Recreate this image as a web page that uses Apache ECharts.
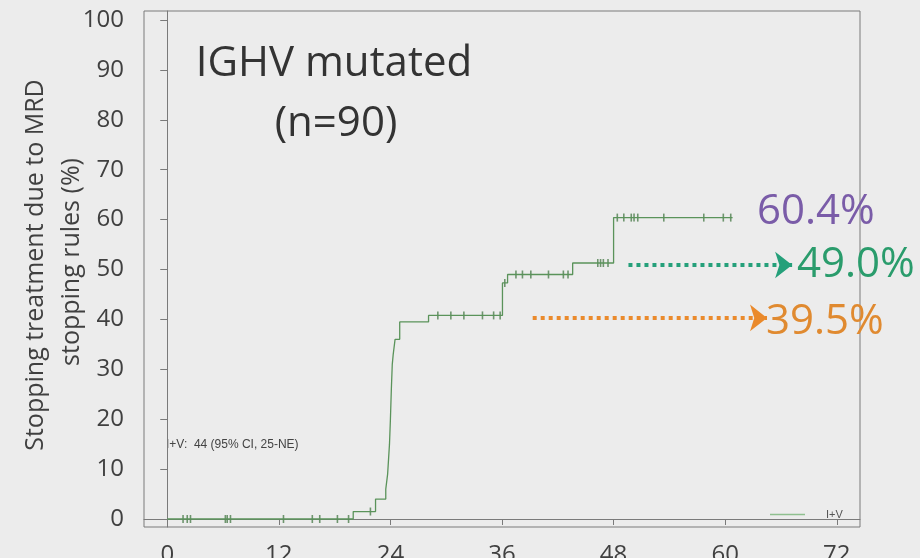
<!DOCTYPE html>
<html>
<head>
<meta charset="utf-8">
<script src="https://cdn.jsdelivr.net/npm/echarts@6/dist/echarts.min.js"></script>
<style>
html,body{margin:0;padding:0;background:#ececec;}
#chart{width:920px;height:558px;}
</style>
</head>
<body>
<div id="chart"></div>
<script>
// Kaplan-Meier step curve (cumulative % stopping treatment), months
const kmTime  = [0, 20.0, 22.4, 23.5, 23.7, 23.8, 23.9, 24.0, 24.1, 24.2, 24.3, 24.5, 25.0, 28.1, 36.05, 36.6, 43.6, 48.0, 60.8];
const kmValue = [0, 1.5, 4.0, 6.0, 9.0, 12.0, 15.0, 20.0, 26.0, 31.0, 33.0, 36.0, 39.5, 40.8, 47.3, 49.0, 51.3, 60.4, 60.4];
// censor marks [month, %]
const censored = [
  [1.7,0],[2.15,0],[2.5,0],[6.25,0],[6.45,0],[6.8,0],[12.5,0],[15.6,0],[16.4,0],[18.3,0],[19.5,0],
  [21.85,1.5],
  [29.1,40.8],[30.5,40.8],[31.9,40.8],[33.9,40.8],[35.1,40.8],[35.8,40.8],
  [36.3,47.3],
  [37.5,49.0],[38.2,49.0],[39.1,49.0],[41.0,49.0],[42.6,49.0],[43.1,49.0],
  [46.3,51.3],[46.6,51.3],[46.9,51.3],[47.4,51.3],
  [48.4,60.4],[49.1,60.4],[49.9,60.4],[50.2,60.4],[50.6,60.4],[53.4,60.4],[57.7,60.4],[59.8,60.4],[60.6,60.4]
];
const xTicks = [0, 12, 24, 36, 48, 60, 72];
const yTicks = [0, 10, 20, 30, 40, 50, 60, 70, 80, 90, 100];
// annotation arrows [startMonth, endMonth, level%]
const greenArrow  = [49.6, 67.2, 50.9];
const orangeArrow = [39.3, 64.5, 40.3];
const seriesName = 'I+V';

const kmData = kmTime.map((t, i) => [t, kmValue[i]]);
const FONT = 'Open Sans';
const AXIS_GREY = '#7a7a7a';

const chart = echarts.init(document.getElementById('chart'));
chart.setOption({
  animation: false,
  backgroundColor: '#ececec',
  grid: {left: 144, right: 60, top: 11, bottom: 31, containLabel: false, outerBoundsMode: 'none',
         show: true, borderColor: AXIS_GREY, borderWidth: 1, backgroundColor: 'transparent'},
  xAxis: {
    type: 'value', min: -2.5, max: 74.5,
    axisLine: {show: true, lineStyle: {color: AXIS_GREY}}, splitLine: {show: false},
    axisTick: {show: true, length: 6, customValues: xTicks, lineStyle: {color: AXIS_GREY}},
    axisLabel: {customValues: xTicks, margin: 16, color: '#404040', fontFamily: FONT, fontSize: 24}
  },
  yAxis: {
    type: 'value', min: -1.6, max: 101.8,
    axisLine: {show: true, lineStyle: {color: AXIS_GREY}}, splitLine: {show: false},
    axisTick: {show: true, length: 7, customValues: yTicks, lineStyle: {color: AXIS_GREY}},
    axisLabel: {customValues: yTicks, margin: 20, color: '#404040', fontFamily: FONT, fontSize: 24}
  },
  legend: {
    data: [{name: seriesName, itemStyle: {color: '#8fc08f'}}],
    left: 765, top: 504, icon: 'rect', itemWidth: 35, itemHeight: 1.5,
    textStyle: {fontFamily: 'Liberation Sans', fontSize: 11, color: '#555', padding: [0,0,0,16]}
  },
  series: [
    {name: seriesName, type: 'line', step: 'end', data: kmData, showSymbol: false, symbol: 'none',
     lineStyle: {color: '#5a935a', width: 1.3}, itemStyle: {color: '#5a935a'},
     markLine: {
       silent: true, symbol: ['none', 'arrow'], symbolSize: [20, 17],
       label: {show: false},
       data: [
         [{coord: [greenArrow[0], greenArrow[2]], lineStyle: {color: '#25a07a', width: 4, type: [4, 4]}, symbol: 'none'},
          {coord: [greenArrow[1], greenArrow[2]], symbol: 'arrow', itemStyle: {color: '#25a07a'}}],
         [{coord: [orangeArrow[0], orangeArrow[2]], lineStyle: {color: '#ea8a2c', width: 4, type: [4, 4]}, symbol: 'none'},
          {coord: [orangeArrow[1], orangeArrow[2]], symbol: 'arrow', itemStyle: {color: '#ea8a2c'}}]
       ]
     }},
    {name: seriesName + ' censored', type: 'scatter', data: censored, symbol: 'rect', symbolSize: [1.6, 8],
     itemStyle: {color: '#4f7f4f'}, silent: true}
  ],
  graphic: [
    {type: 'text', x: 334, y: 64, style: {text: 'IGHV mutated', fontFamily: FONT, fontSize: 42, fill: '#333', textAlign: 'center', textVerticalAlign: 'middle'}},
    {type: 'text', x: 336, y: 124, style: {text: '(n=90)', fontFamily: FONT, fontSize: 42, fill: '#333', textAlign: 'center', textVerticalAlign: 'middle'}},
    {type: 'text', x: 757, y: 212, style: {text: '60.4%', fontFamily: FONT, fontSize: 42, fill: '#7a5ca8', textAlign: 'left', textVerticalAlign: 'middle'}},
    {type: 'text', x: 797, y: 265, style: {text: '49.0%', fontFamily: FONT, fontSize: 42, fill: '#2a9c6c', textAlign: 'left', textVerticalAlign: 'middle'}},
    {type: 'text', x: 766, y: 322, style: {text: '39.5%', fontFamily: FONT, fontSize: 42, fill: '#e08a30', textAlign: 'left', textVerticalAlign: 'middle'}},
    {type: 'text', x: 166, y: 445, style: {text: 'I+V:  44 (95% CI, 25-NE)', fontFamily: 'Liberation Sans', fontSize: 12, fill: '#444', textAlign: 'left', textVerticalAlign: 'middle'}},
    {type: 'text', x: 36, y: 265, rotation: Math.PI / 2, style: {text: 'Stopping treatment due to MRD', fontFamily: FONT, fontSize: 25, fill: '#404040', textAlign: 'center', textVerticalAlign: 'middle'}},
    {type: 'text', x: 72, y: 262, rotation: Math.PI / 2, style: {text: 'stopping rules (%)', fontFamily: FONT, fontSize: 25, fill: '#404040', textAlign: 'center', textVerticalAlign: 'middle'}}
  ]
});
</script>
</body>
</html>
